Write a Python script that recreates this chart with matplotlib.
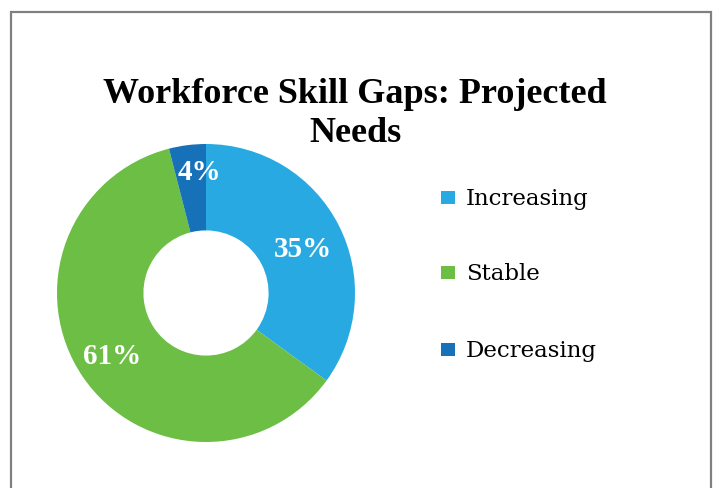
import numpy as np
import matplotlib
matplotlib.use("Agg")
import matplotlib.pyplot as plt
from matplotlib.patches import Rectangle

# Data
categories = ["Increasing", "Stable", "Decreasing"]
shares = [35, 61, 4]
colors = ["#29A9E1", "#6CBE45", "#1771B8"]
title = "Workforce Skill Gaps: Projected\nNeeds"

W, H = 713, 488
fig = plt.figure(figsize=(W / 100, H / 100), dpi=100)
fig.patch.set_facecolor("white")

# outer frame of the chart area
fig.patches.append(Rectangle((11 / W, -0.05), 700 / W, 1 - 12 / H + 0.05,
                             transform=fig.transFigure, fill=False,
                             edgecolor="#808080", linewidth=1.6))

serif = ["Liberation Serif", "DejaVu Serif"]

fig.text(355 / W, 1 - 114 / H, title, ha="center", va="center",
         fontsize=26, fontweight="bold", family=serif, linespacing=1.27)

# donut
cx, cy, r = 206, 293, 149
ax = fig.add_axes([(cx - r) / W, 1 - (cy + r) / H, 2 * r / W, 2 * r / H])
wedges, _ = ax.pie(shares, colors=colors, startangle=90, counterclock=False,
                   radius=1.0, wedgeprops=dict(width=0.58, linewidth=0))
ax.set_xlim(-1, 1)
ax.set_ylim(-1, 1)
ax.set_aspect("equal")
ax.axis("off")

# percentage labels: radial distance and angular nudge per wedge
label_r = [0.71, 0.76, 0.81]
label_nudge = [-3, 0, -4]
for w, val, lr, nd in zip(wedges, shares, label_r, label_nudge):
    ang = np.deg2rad((w.theta1 + w.theta2) / 2 + nd)
    ax.text(lr * np.cos(ang), lr * np.sin(ang), f"{val}%", ha="center",
            va="center", color="white", fontsize=21, fontweight="bold",
            family=serif)

# legend
leg_y = [199, 274, 351]
for cat, col, y in zip(categories, colors, leg_y):
    fig.patches.append(Rectangle((441 / W, 1 - (y + 5) / H), 14 / W, 13 / H,
                                 transform=fig.transFigure, facecolor=col,
                                 edgecolor="none"))
    fig.text(466 / W, 1 - y / H, cat, ha="left", va="center",
             fontsize=16.5, family=["DejaVu Serif"])

fig.savefig("out.png", dpi=100, facecolor="white")
